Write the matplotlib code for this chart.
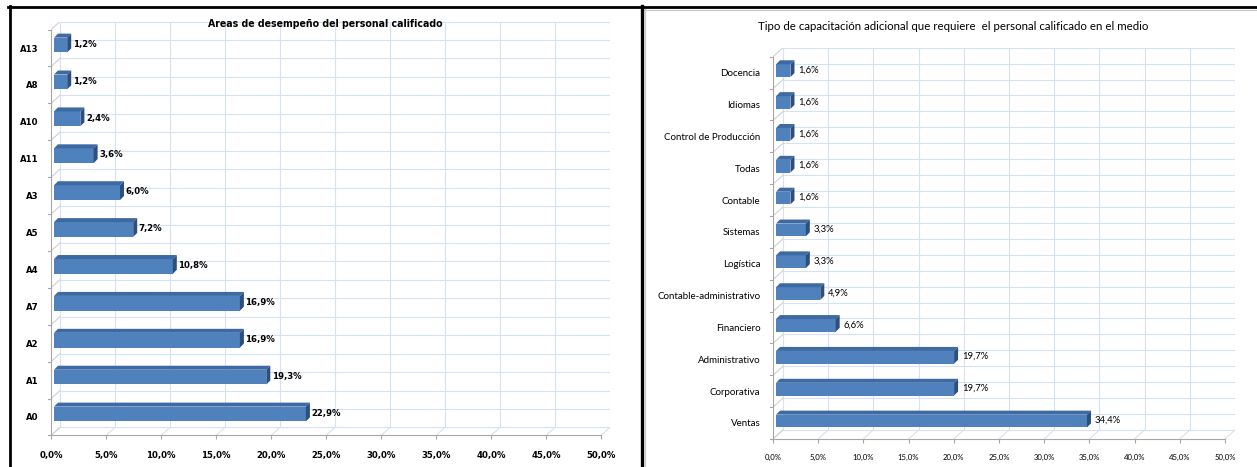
import numpy as np
import matplotlib
matplotlib.use("Agg")
import matplotlib.pyplot as plt
from matplotlib.patches import Polygon
from matplotlib.lines import Line2D

W, H = 1257, 467

areas = ["A0", "A1", "A2", "A7", "A4", "A5", "A3", "A11", "A10", "A8", "A13"]
areas_pct = [22.9, 19.3, 16.9, 16.9, 10.8, 7.2, 6.0, 3.6, 2.4, 1.2, 1.2]

capacitacion = ["Ventas", "Corporativa", "Administrativo", "Financiero",
                "Contable-administrativo", "Logística", "Sistemas", "Contable",
                "Todas", "Control de Producción", "Idiomas", "Docencia"]
capacitacion_pct = [34.4, 19.7, 19.7, 6.6, 4.9, 3.3, 3.3, 1.6, 1.6, 1.6, 1.6, 1.6]

ticks = np.arange(0, 55, 5)

FRONT = "#4f81bd"
TOP = "#3d6aa3"
SIDE = "#2c4f7e"
GRID = "#d6e2f3"
AXIS = "#a6a6a6"


def pct(v):
    return f"{v:.1f}%".replace(".", ",")


def chart(fig, cats, vals, x0, scale, ylab0, step, back, boff, bar_h, depth,
          txt, lab_size, tick_size, val_size, val_pad):
    n = len(cats)
    bx, by = back
    right = x0 + 50 * scale + bx
    floor = ylab0 + step / 2
    top = ylab0 - (n - 0.5) * step - by
    ax = fig.add_axes([x0 / W, 1 - floor / H, (right - x0) / W, (floor - top) / H])
    ax.set_xlim(0, 50 + bx / scale)
    ax.set_ylim(-0.5, n - 0.5 + by / step)
    ax.patch.set_visible(False)

    bxu, byu = bx / scale, by / step
    lw = 0.8
    # back wall and floor
    for t in ticks:
        ax.plot([t + bxu] * 2, [-0.5 + byu, n - 0.5 + byu], color=GRID, lw=lw, zorder=1)
        ax.plot([t, t + bxu], [-0.5, -0.5 + byu], color=GRID, lw=lw, zorder=1)
    for k in np.arange(-0.5, n - 0.49, 0.5):
        ax.plot([bxu, 50 + bxu], [k + byu] * 2, color=GRID, lw=lw, zorder=1)
    # side wall + category ticks
    for k in np.arange(-0.5, n, 1.0):
        ax.plot([0, bxu], [k, k + byu], color="#d0d0d0", lw=lw, zorder=1)
        ax.plot([-3 / scale, 0], [k, k], color=AXIS, lw=lw, zorder=1, clip_on=False)

    # 3d bars: front face + top + side
    ox, oy = boff[0] / scale, boff[1] / step
    dx, dy = depth / scale, depth / step
    pos = np.arange(n) + oy
    ax.barh(pos, vals, left=ox, height=bar_h, color=FRONT, zorder=3)
    for p, v in zip(pos, vals):
        yt = p + bar_h / 2
        yb = p - bar_h / 2
        ax.add_patch(Polygon([(ox, yt), (ox + v, yt), (ox + v + dx, yt + dy), (ox + dx, yt + dy)],
                             closed=True, facecolor=TOP, edgecolor="none", zorder=3))
        ax.add_patch(Polygon([(ox + v, yb), (ox + v + dx, yb + dy), (ox + v + dx, yt + dy), (ox + v, yt)],
                             closed=True, facecolor=SIDE, edgecolor="none", zorder=3))
        ax.text(ox + v + dx + val_pad / scale, p + 0.02, pct(v), ha="left", va="center",
                fontsize=val_size, color="black", zorder=4, **txt)

    for s in ("top", "right"):
        ax.spines[s].set_visible(False)
    ax.spines["bottom"].set_bounds(0, 50)
    ax.spines["left"].set_bounds(-0.5, n - 0.5)
    for s in ("bottom", "left"):
        ax.spines[s].set_color(AXIS)
        ax.spines[s].set_linewidth(lw)

    ax.set_xticks(ticks, [pct(t) for t in ticks], fontsize=tick_size, **txt)
    ax.tick_params(axis="x", length=3, color=AXIS, width=lw, pad=8)
    ax.set_yticks(np.arange(n), cats, fontsize=lab_size, **txt)
    ax.tick_params(axis="y", length=0, pad=9)
    return ax


fig = plt.figure(figsize=(W / 100, H / 100), dpi=100)

bold_narrow = dict(family="DejaVu Sans", stretch="condensed", weight="bold")
chart(fig, areas, areas_pct, x0=51, scale=11.0, ylab0=417, step=36.9,
      back=(9, 8), boff=(3, 3), bar_h=0.40, depth=4,
      txt=bold_narrow, lab_size=6.8, tick_size=6.8, val_size=6.8, val_pad=1.5)
fig.text(325 / W, 1 - 24 / H, "Areas de desempeño del personal calificado",
         ha="center", va="center", fontsize=7.6, **bold_narrow)

regular = dict(family=["Lato", "DejaVu Sans"])
chart(fig, capacitacion, capacitacion_pct, x0=773, scale=9.04, ylab0=423, step=31.85,
      back=(10, 9), boff=(3, 2), bar_h=0.40, depth=4,
      txt=regular, lab_size=7.0, tick_size=5.6, val_size=6.8, val_pad=4)
fig.text(953 / W, 1 - 27 / H,
         "Tipo de capacitación adicional que requiere  el personal calificado en el medio",
         ha="center", va="center", fontsize=8.3, **regular)

# panel frames
fig.add_artist(Line2D([8 / W, 1], [1 - 7 / H] * 2, color="black", lw=2.0))
fig.add_artist(Line2D([644 / W, 1], [1 - 9.5 / H] * 2, color="#c8c8c8", lw=0.8))
fig.add_artist(Line2D([10 / W] * 2, [0, 1 - 6 / H], color="black", lw=2.0))
fig.add_artist(Line2D([642 / W] * 2, [0, 1 - 6 / H], color="black", lw=2.4))
fig.add_artist(Line2D([645 / W] * 2, [0, 1 - 9 / H], color="#c8c8c8", lw=0.8))

fig.savefig("out.png", dpi=100)
